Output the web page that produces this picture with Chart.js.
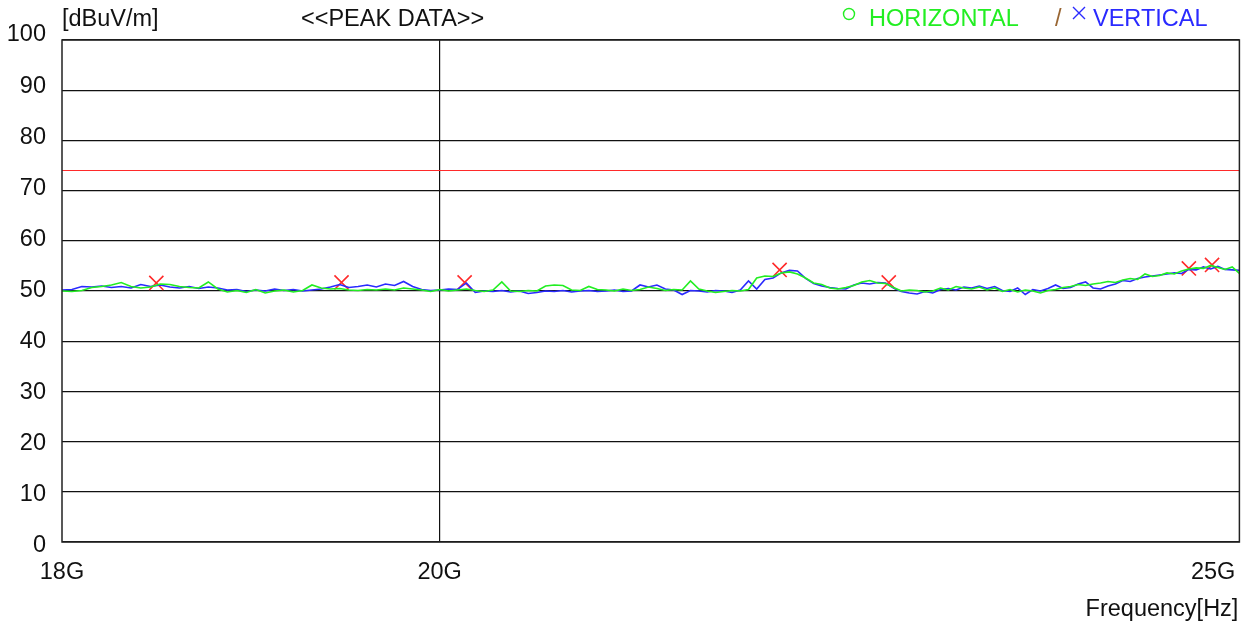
<!DOCTYPE html>
<html>
<head>
<meta charset="utf-8">
<script src="https://cdn.jsdelivr.net/npm/chart.js@4.4.1/dist/chart.umd.min.js"></script>
<style>
  html, body { margin: 0; padding: 0; background: #fff; }
  #wrap { width: 1251px; height: 625px; }
</style>
</head>
<body>
<div id="wrap"><canvas id="grafico" width="1251" height="625"></canvas></div>
<script>
// sweep 18 - 25 GHz, passo 50 MHz
const sweepGHz = Array.from({ length: 141 }, (_, i) => +(18 + i * 0.05).toFixed(2));

// livelli [dBuV/m]
const vertical = [
  50.2, 50.3, 50.9, 50.8, 51.0, 50.7, 50.9, 50.6, 51.3, 50.9,
  51.2, 50.8, 50.6, 50.9, 50.5, 50.8, 50.6, 50.2, 50.3, 49.9,
  50.2, 50.0, 50.4, 50.1, 50.3, 50.0, 50.2, 50.4, 50.8, 51.3,
  50.7, 50.9, 51.2, 50.8, 51.4, 51.1, 51.9, 50.9, 50.3, 50.1,
  50.2, 50.4, 50.3, 51.6, 49.7, 50.0, 49.9, 50.1, 49.8, 50.0,
  49.5, 49.7, 50.0, 49.9, 50.1, 49.8, 50.0, 50.1, 49.9, 50.0,
  50.2, 49.9, 50.0, 51.2, 50.8, 51.2, 50.4, 50.2, 49.3, 50.1,
  50.0, 49.8, 50.1, 50.0, 49.7, 50.2, 52.0, 50.4, 52.3, 52.6,
  53.6, 54.1, 54.0, 52.5, 51.5, 51.0, 50.7, 50.5, 50.4, 51.2,
  51.6, 51.4, 51.7, 51.6, 50.6, 49.9, 49.6, 49.4, 49.9, 49.6,
  50.3, 50.5, 50.2, 50.8, 50.6, 51.0, 50.5, 50.9, 50.1, 49.9,
  50.6, 49.3, 50.3, 50.0, 50.5, 51.2, 50.5, 50.7, 51.4, 51.8,
  50.6, 50.4, 51.0, 51.4, 52.1, 51.9, 52.5, 52.8, 53.0, 53.2,
  53.4, 53.6, 53.5, 54.3, 54.2, 54.8, 54.4, 54.9, 54.3, 54.2,
  54.1
];
const horizontal = [
  50.0, 49.9, 50.1, 50.7, 50.9, 51.2, 51.7, 50.9, 50.6, 50.8,
  51.4, 51.3, 50.9, 50.7, 50.6, 51.8, 50.4, 49.8, 50.1, 49.7,
  50.3, 49.6, 50.0, 50.2, 49.8, 50.1, 51.2, 50.6, 50.4, 50.5,
  50.2, 50.1, 50.3, 50.2, 50.4, 50.2, 50.6, 50.4, 50.2, 49.9,
  50.3, 50.0, 50.2, 50.4, 50.1, 49.9, 50.2, 51.8, 50.0, 49.9,
  50.1, 50.0, 51.0, 51.2, 51.1, 50.2, 50.1, 50.9, 50.3, 50.2,
  50.0, 50.4, 50.1, 50.3, 50.8, 50.5, 50.1, 50.3, 50.2, 52.0,
  50.4, 50.0, 49.7, 49.9, 50.1, 50.0, 50.3, 52.6, 53.0, 52.9,
  53.6, 53.8, 53.4, 52.6, 51.6, 51.3, 50.6, 50.4, 50.7, 51.1,
  51.8, 52.1, 51.6, 51.5, 50.7, 50.0, 50.2, 50.1, 49.8, 50.0,
  50.6, 50.2, 50.9, 50.6, 50.4, 50.8, 50.2, 50.6, 49.9, 50.3,
  49.8, 50.2, 50.0, 49.6, 50.1, 50.3, 50.7, 50.9, 51.3, 51.1,
  51.4, 51.6, 51.9, 51.7, 52.2, 52.5, 52.3, 53.4, 52.9, 53.1,
  53.6, 53.4, 54.0, 54.4, 54.6, 54.5, 55.1, 54.7, 54.3, 54.8,
  53.5
];

// picchi marcati (x rossa)
const peakGHz = [18.48, 19.46, 20.14, 21.99, 22.67, 24.65, 24.81];
const peakLevel = [51.6, 51.7, 51.7, 54.2, 51.7, 54.5, 55.2];

// limite
const limitLevel = 74;

// etichette assi
const yTicks = [0, 10, 20, 30, 40, 50, 60, 70, 80, 90, 100];
const xTicksGHz = [18, 20, 25];
const xTickLabels = ['18G', '20G', '25G'];

const FONT = '"Liberation Sans", Arial, sans-serif';
const VERDE = '#22ee22';
const BLU = '#2a2aff';
const ROSSO = '#ff2a2a';

const punti = (valori) => sweepGHz.map((f, i) => ({ x: f * 1e9, y: valori[i] }));

// testi: assi, titolo e legenda
const testiPlugin = {
  id: 'testi',
  afterDraw(chart) {
    const ctx = chart.ctx;
    const a = chart.chartArea;
    const sx = chart.scales.x;
    const sy = chart.scales.y;
    ctx.save();
    // bordo
    ctx.strokeStyle = '#222';
    ctx.lineWidth = 1.5;
    ctx.strokeRect(a.left, a.top, a.right - a.left, a.bottom - a.top);

    ctx.font = '23.5px ' + FONT;
    ctx.fillStyle = '#111';
    ctx.textBaseline = 'middle';
    ctx.textAlign = 'right';
    yTicks.forEach(v => {
      const off = -5 + 0.09 * (100 - v);
      ctx.fillText(String(v), 46, sy.getPixelForValue(v) + off);
    });

    xTicksGHz.forEach((f, i) => {
      const ultimo = i === xTicksGHz.length - 1;
      ctx.textAlign = ultimo ? 'right' : 'center';
      ctx.fillText(xTickLabels[i], ultimo ? a.right - 4 : sx.getPixelForValue(f * 1e9), 573);
    });
    ctx.textAlign = 'right';
    ctx.fillText('Frequency[Hz]', a.right - 1, 610);

    ctx.textAlign = 'left';
    ctx.fillText('[dBuV/m]', 62, 20);
    ctx.fillText('<<PEAK DATA>>', 301, 20);

    // legenda
    ctx.strokeStyle = VERDE;
    ctx.lineWidth = 1.4;
    ctx.beginPath();
    ctx.arc(849, 14, 5.5, 0, Math.PI * 2);
    ctx.stroke();
    ctx.fillStyle = VERDE;
    ctx.fillText('HORIZONTAL', 869, 20);
    ctx.fillStyle = '#996633';
    ctx.fillText('/', 1055, 20);
    ctx.strokeStyle = BLU;
    ctx.beginPath();
    ctx.moveTo(1073, 7); ctx.lineTo(1085, 19);
    ctx.moveTo(1085, 7); ctx.lineTo(1073, 19);
    ctx.stroke();
    ctx.fillStyle = BLU;
    ctx.fillText('VERTICAL', 1093, 20);
    ctx.restore();
  }
};

new Chart(document.getElementById('grafico').getContext('2d'), {
  type: 'scatter',
  data: {
    datasets: [
      {
        label: 'Limit',
        data: [{ x: 18e9, y: limitLevel }, { x: 25e9, y: limitLevel }],
        showLine: true,
        borderColor: ROSSO,
        borderWidth: 1.2,
        pointRadius: 0
      },
      {
        label: 'HORIZONTAL',
        data: punti(horizontal),
        showLine: true,
        borderColor: VERDE,
        borderWidth: 1.6,
        pointRadius: 0,
        tension: 0
      },
      {
        label: 'VERTICAL',
        data: punti(vertical),
        showLine: true,
        borderColor: BLU,
        borderWidth: 1.6,
        pointRadius: 0,
        tension: 0
      },
      {
        label: 'Peak',
        data: peakGHz.map((f, i) => ({ x: f * 1e9, y: peakLevel[i] })),
        showLine: false,
        pointStyle: 'crossRot',
        pointRadius: 10,
        borderColor: ROSSO,
        borderWidth: 1.6
      }
    ]
  },
  options: {
    responsive: false,
    animation: false,
    devicePixelRatio: 1,
    layout: { padding: { left: 62, top: 40, right: 11, bottom: 83 } },
    plugins: {
      legend: { display: false },
      tooltip: { enabled: false }
    },
    scales: {
      x: {
        type: 'logarithmic',
        min: 18e9,
        max: 25e9,
        afterBuildTicks: (scale) => { scale.ticks = [{ value: 20e9 }]; },
        ticks: { display: false },
        grid: { color: '#111', lineWidth: 1.2, drawTicks: false },
        border: { display: false }
      },
      y: {
        min: 0,
        max: 100,
        ticks: { display: false, stepSize: 10 },
        grid: { color: '#111', lineWidth: 1.2, drawTicks: false },
        border: { display: false }
      }
    }
  },
  plugins: [testiPlugin]
});
</script>
</body>
</html>
